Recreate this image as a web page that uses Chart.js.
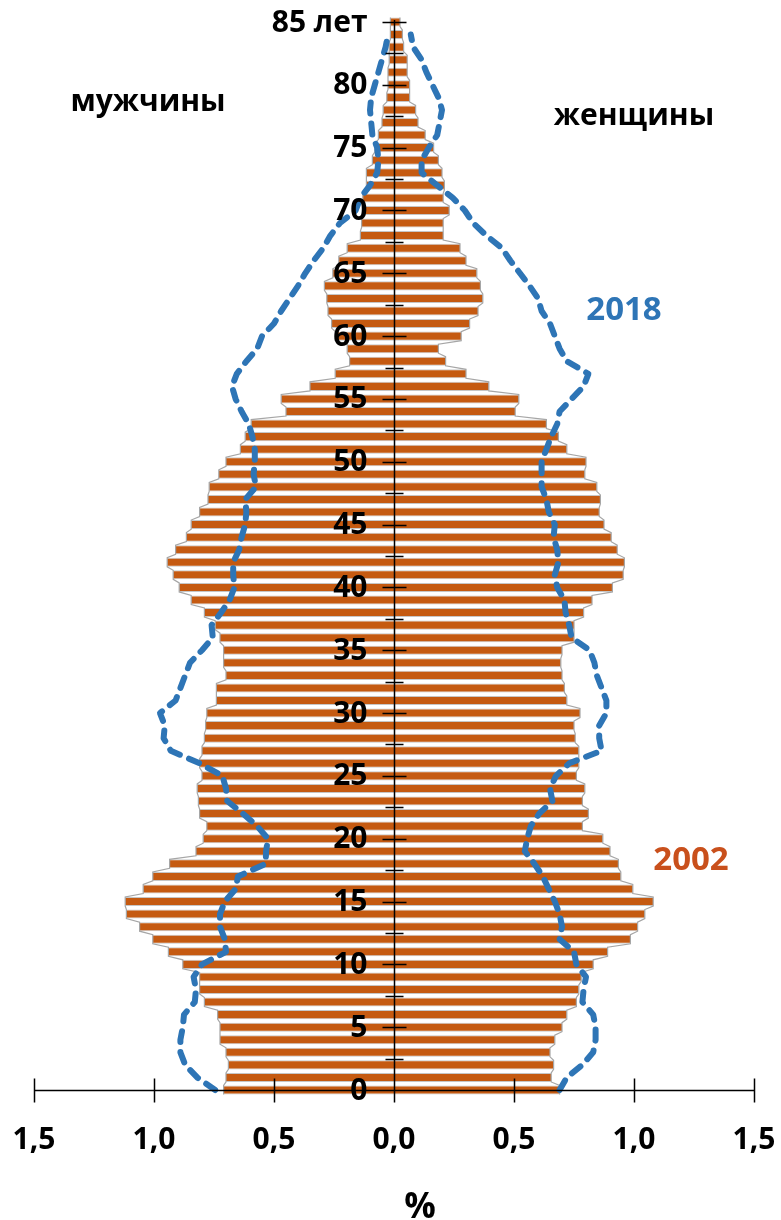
<!DOCTYPE html>
<html><head><meta charset="utf-8">
<script src="https://cdn.jsdelivr.net/npm/chart.js@4.4.0/dist/chart.umd.min.js"></script>
<style>
html,body{margin:0;padding:0;background:#fff;}
#wrap{position:relative;width:781px;height:1220px;overflow:hidden;}
canvas{position:absolute;left:0;top:0;}
.lbl{position:absolute;transform:translate(-50%,-50%);font-family:'Open Sans',sans-serif;font-weight:700;white-space:nowrap;line-height:1;}
</style></head><body>
<div id="wrap">
<canvas id="c" width="781" height="1220"></canvas>
<div class="lbl" style="left:148px;top:100px;font-size:30px;color:#000">мужчины</div>
<div class="lbl" style="left:634px;top:114px;font-size:30px;color:#000">женщины</div>
<div class="lbl" style="left:624px;top:307px;font-size:33px;color:#2E75B6">2018</div>
<div class="lbl" style="left:691px;top:857px;font-size:33px;color:#C9501C">2002</div>
<div class="lbl" style="left:420px;top:1204px;font-size:35px;color:#000">%</div>
</div>
<script>
const ages = [0,1,2,3,4,5,6,7,8,9,10,11,12,13,14,15,16,17,18,19,20,21,22,23,24,25,26,27,28,29,30,31,32,33,34,35,36,37,38,39,40,41,42,43,44,45,46,47,48,49,50,51,52,53,54,55,56,57,58,59,60,61,62,63,64,65,66,67,68,69,70,71,72,73,74,75,76,77,78,79,80,81,82,83,84,85];

const male2002 = [0.71,0.70,0.69,0.70,0.725,0.725,0.735,0.79,0.81,0.81,0.88,0.94,1.005,1.06,1.115,1.12,1.045,1.005,0.935,0.825,0.795,0.78,0.81,0.815,0.82,0.80,0.81,0.80,0.79,0.785,0.78,0.74,0.74,0.70,0.71,0.71,0.725,0.745,0.79,0.845,0.895,0.92,0.945,0.91,0.865,0.845,0.81,0.775,0.77,0.73,0.70,0.64,0.62,0.595,0.45,0.47,0.35,0.245,0.185,0.195,0.245,0.26,0.275,0.28,0.29,0.255,0.23,0.195,0.14,0.135,0.13,0.13,0.115,0.115,0.09,0.08,0.065,0.05,0.045,0.03,0.025,0.025,0.02,0.02,0.015,0.015];

const female2002 = [0.69,0.655,0.665,0.65,0.67,0.70,0.72,0.76,0.77,0.78,0.83,0.89,0.985,1.015,1.045,1.08,0.995,0.945,0.935,0.90,0.87,0.785,0.81,0.785,0.795,0.76,0.77,0.77,0.755,0.75,0.775,0.72,0.71,0.70,0.695,0.70,0.75,0.75,0.79,0.825,0.91,0.955,0.96,0.93,0.905,0.875,0.855,0.86,0.845,0.795,0.80,0.72,0.685,0.635,0.505,0.52,0.395,0.30,0.215,0.185,0.28,0.315,0.35,0.37,0.36,0.345,0.30,0.275,0.205,0.205,0.23,0.205,0.21,0.20,0.185,0.165,0.13,0.10,0.09,0.065,0.065,0.055,0.055,0.04,0.035,0.025];

const male2018 = [0.745,0.82,0.87,0.89,0.89,0.88,0.875,0.83,0.825,0.835,0.80,0.70,0.705,0.725,0.725,0.705,0.66,0.65,0.535,0.533,0.525,0.57,0.63,0.695,0.70,0.715,0.81,0.93,0.96,0.955,0.975,0.91,0.89,0.87,0.85,0.80,0.755,0.76,0.72,0.685,0.665,0.67,0.67,0.645,0.635,0.62,0.615,0.62,0.575,0.585,0.58,0.58,0.59,0.605,0.635,0.66,0.675,0.655,0.615,0.57,0.55,0.50,0.47,0.435,0.40,0.37,0.335,0.295,0.265,0.225,0.16,0.14,0.10,0.07,0.065,0.07,0.09,0.095,0.10,0.095,0.08,0.065,0.05,0.035,0.025];

const female2018 = [0.69,0.72,0.785,0.83,0.84,0.84,0.83,0.785,0.79,0.80,0.76,0.75,0.69,0.70,0.69,0.67,0.645,0.62,0.585,0.545,0.555,0.57,0.605,0.66,0.65,0.675,0.73,0.865,0.855,0.855,0.885,0.885,0.865,0.845,0.835,0.815,0.74,0.73,0.715,0.71,0.68,0.67,0.685,0.68,0.665,0.67,0.645,0.635,0.615,0.615,0.615,0.635,0.655,0.68,0.69,0.74,0.79,0.81,0.72,0.69,0.67,0.65,0.615,0.60,0.565,0.525,0.485,0.45,0.385,0.33,0.295,0.245,0.18,0.115,0.115,0.145,0.18,0.19,0.20,0.185,0.16,0.135,0.115,0.08,0.07];

const yTickValues = [0,5,10,15,20,25,30,35,40,45,50,55,60,65,70,75,80,85];
const yTickLabels = ['0','5','10','15','20','25','30','35','40','45','50','55','60','65','70','75','80','85 лет'];
const xTickValues = [-1.5,-1,-0.5,0,0.5,1,1.5];
const xTickLabels = ['1,5','1,0','0,5','0,0','0,5','1,0','1,5'];

const toPts = (vals, sign) => vals.map((v, i) => ({x: sign * v, y: ages[i]}));

const ORANGE = '#C55A11';
const BLUE = '#2E75B6';
const FONT = 'bold 30px "Open Sans", sans-serif';

const decor = {
  id: 'decor',
  afterDatasetDraw(chart, args) {
    const meta = args.meta;
    if (meta.type !== 'bar') return;
    const ctx = chart.ctx;
    ctx.save();
    ctx.strokeStyle = '#A6A6A6';
    ctx.lineWidth = 1.2;
    ctx.beginPath();
    meta.data.forEach((el, i) => {
      const h = el.height / 2;
      if (i === 0) ctx.moveTo(el.x, el.y + h); else ctx.lineTo(el.x, el.y + h);
      ctx.lineTo(el.x, el.y - h);
    });
    ctx.stroke();
    ctx.restore();
  },
  afterDraw(chart) {
    const {ctx, scales: {x, y}} = chart;
    const x0 = Math.round(x.getPixelForValue(0)) + 0.5;
    const y0 = Math.round(y.getPixelForValue(0)) + 0.5;
    const yTop = y.getPixelForValue(85);
    ctx.save();
    ctx.strokeStyle = '#000';
    ctx.lineWidth = 1.5;
    ctx.beginPath();
    // axis lines
    ctx.moveTo(x0, yTop - 2); ctx.lineTo(x0, y0 + 4);
    ctx.moveTo(x.getPixelForValue(-1.5), y0); ctx.lineTo(x.getPixelForValue(1.5), y0);
    // y ticks (major every 5, minor every 2.5)
    for (let v = y.min; v <= y.max + 1e-9; v += 2.5) {
      const py = Math.round(y.getPixelForValue(v)) + 0.5;
      const L = (Math.abs(v % 5) < 1e-9) ? 12 : 9;
      ctx.moveTo(x0 - L, py); ctx.lineTo(x0 + L, py);
    }
    // x ticks
    xTickValues.forEach(v => {
      const px = Math.round(x.getPixelForValue(v)) + 0.5;
      ctx.moveTo(px, y0 - 12); ctx.lineTo(px, y0 + 12);
    });
    ctx.stroke();
    // labels
    ctx.fillStyle = '#000';
    ctx.font = FONT;
    ctx.textBaseline = 'middle';
    ctx.textAlign = 'right';
    yTickValues.forEach((v, i) => {
      ctx.fillText(yTickLabels[i], x0 - 27, y.getPixelForValue(v) + 1);
    });
    ctx.textAlign = 'center';
    xTickValues.forEach((v, i) => {
      ctx.fillText(xTickLabels[i], x.getPixelForValue(v), y0 + 50);
    });
    ctx.restore();
  }
};

const barCommon = {
  type: 'bar',
  backgroundColor: ORANGE,
  borderColor: 'rgba(160,160,160,0.6)',
  borderWidth: {top: 1, bottom: 1, left: 0, right: 0},
  borderSkipped: false,
  grouped: false,
  barPercentage: 1,
  categoryPercentage: 0.72,
  clip: false,
  order: 2
};
const lineCommon = {
  type: 'line',
  borderColor: BLUE,
  borderWidth: 6,
  borderDash: [11, 10],
  borderCapStyle: 'round',
  borderJoinStyle: 'round',
  pointRadius: 0,
  fill: false,
  tension: 0,
  clip: false,
  order: 0
};

new Chart(document.getElementById('c'), {
  data: {
    datasets: [
      Object.assign({label: 'мужчины 2018', data: toPts(male2018, -1)}, lineCommon),
      Object.assign({label: 'женщины 2018', data: toPts(female2018, 1)}, lineCommon),
      Object.assign({label: 'мужчины 2002', data: toPts(male2002, -1)}, barCommon),
      Object.assign({label: 'женщины 2002', data: toPts(female2002, 1)}, barCommon)
    ]
  },
  options: {
    animation: false,
    responsive: false,
    indexAxis: 'y',
    layout: {padding: {left: 34, right: 27, top: 22, bottom: 0}},
    plugins: {legend: {display: false}, tooltip: {enabled: false}},
    scales: {
      x: {
        type: 'linear', position: 'bottom', min: -1.5, max: 1.5, offset: false,
        afterFit: s => { s.height = 130; s.paddingLeft = 0; s.paddingRight = 0; },
        grid: {display: false, drawTicks: false},
        border: {display: false},
        ticks: {display: false}
      },
      y: {
        type: 'linear', position: 'left', min: 0, max: 85, offset: false,
        afterFit: s => { s.width = 0; s.paddingTop = 0; s.paddingBottom = 0; },
        grid: {display: false, drawTicks: false},
        border: {display: false},
        ticks: {display: false}
      }
    }
  },
  plugins: [decor]
});
</script>
</body></html>
